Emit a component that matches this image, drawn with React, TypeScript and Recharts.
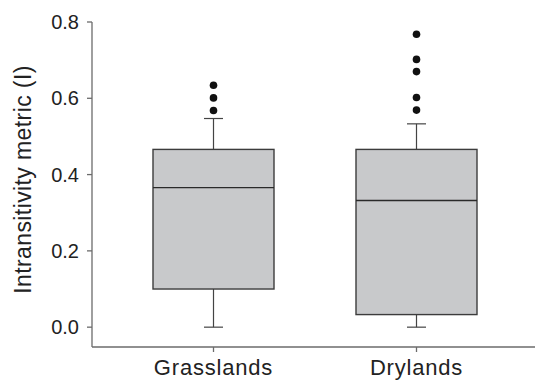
import React from "react";
import { ComposedChart, Bar, Scatter, XAxis, YAxis } from "recharts";

const categories = ["Grasslands", "Drylands"];
const whiskerLow = [0, 0];
const quartile1 = [0.1, 0.033];
const medians = [0.366, 0.332];
const quartile3 = [0.466, 0.466];
const whiskerHigh = [0.547, 0.533];
const outliersGrasslands = [0.568, 0.601, 0.634];
const outliersDrylands = [0.569, 0.602, 0.67, 0.702, 0.768];
const yTicks = [0, 0.2, 0.4, 0.6, 0.8];
const yLabel = "Intransitivity metric (I)";

const boxData = categories.map((c, i) => ({
  category: c,
  range: [whiskerLow[i], whiskerHigh[i]],
  low: whiskerLow[i],
  q1: quartile1[i],
  median: medians[i],
  q3: quartile3[i],
  high: whiskerHigh[i],
}));

const outlierData = [
  ...outliersGrasslands.map((v) => ({ category: categories[0], value: v })),
  ...outliersDrylands.map((v) => ({ category: categories[1], value: v })),
];

const FONT = "'Liberation Sans', Arial, Helvetica, sans-serif";
const AXIS = "#6b6b6b";

const BoxShape = (props: any) => {
  const { x, y, width, height, payload } = props;
  if (payload == null || height == null) return null;
  const span = payload.high - payload.low;
  const k = span > 0 ? height / span : 0;
  const toY = (v: number) => y + (payload.high - v) * k;
  const cx = x + width / 2;
  const cap = 9.5;
  const yq1 = toY(payload.q1);
  const yq3 = toY(payload.q3);
  const ymed = toY(payload.median);
  const ylo = toY(payload.low);
  const yhi = toY(payload.high);
  return (
    <g>
      <line x1={cx} x2={cx} y1={yhi} y2={yq3} stroke="#444" strokeWidth={1.2} />
      <line x1={cx} x2={cx} y1={yq1} y2={ylo} stroke="#444" strokeWidth={1.2} />
      <line x1={cx - cap} x2={cx + cap} y1={yhi} y2={yhi} stroke="#444" strokeWidth={1.2} />
      <line x1={cx - cap} x2={cx + cap} y1={ylo} y2={ylo} stroke="#444" strokeWidth={1.2} />
      <rect x={x} y={yq3} width={width} height={yq1 - yq3} fill="#c8c9cb" stroke="#3c3c3c" strokeWidth={1.4} />
      <line x1={x} x2={x + width} y1={ymed} y2={ymed} stroke="#2a2a2a" strokeWidth={1.3} />
    </g>
  );
};

const Dot = (props: any) => {
  const { cx, cy } = props;
  if (cx == null || cy == null) return null;
  return <circle cx={cx} cy={cy} r={3.8} fill="#111" />;
};

const YLabel = (props: any) => {
  const vb = props.viewBox || {};
  const cy = (vb.y ?? 0) + (vb.height ?? 0) / 2 - 5;
  const cx = 23;
  return (
    <text
      x={cx}
      y={cy}
      transform={`rotate(-90, ${cx}, ${cy})`}
      textAnchor="middle"
      dominantBaseline="central"
      fontSize={23}
      letterSpacing={0.4}
      fontFamily={FONT}
      fill="#222"
    >
      {yLabel}
    </text>
  );
};

export default function App() {
  return (
    <div style={{ position: "absolute", left: 0, top: 0, width: 535, height: 381, background: "#fff" }}>
      <ComposedChart
        width={535}
        height={381}
        data={boxData}
        margin={{ top: 22, right: 0, bottom: 0, left: 0 }}
        barCategoryGap={0}
      >
        <XAxis
          dataKey="category"
          type="category"
          allowDuplicatedCategory={false}
          padding={{ left: 20, right: 17 }}
          height={34}
          tickSize={5}
          tickMargin={7}
          stroke={AXIS}
          strokeWidth={1.3}
          tick={{ fontSize: 22, fontFamily: FONT, fill: "#222", letterSpacing: 0.8 }}
        />
        <YAxis
          type="number"
          domain={[-0.052, 0.8]}
          ticks={yTicks}
          width={92}
          tickSize={5}
          tickMargin={8}
          stroke={AXIS}
          strokeWidth={1.3}
          allowDataOverflow
          tickFormatter={(v: number) => v.toFixed(1)}
          tick={{ fontSize: 20, fontFamily: FONT, fill: "#222" }}
          label={<YLabel />}
        />
        <Bar dataKey="range" barSize={121} shape={<BoxShape />} isAnimationActive={false} />
        <Scatter data={outlierData} dataKey="value" shape={<Dot />} isAnimationActive={false} />
      </ComposedChart>
    </div>
  );
}
